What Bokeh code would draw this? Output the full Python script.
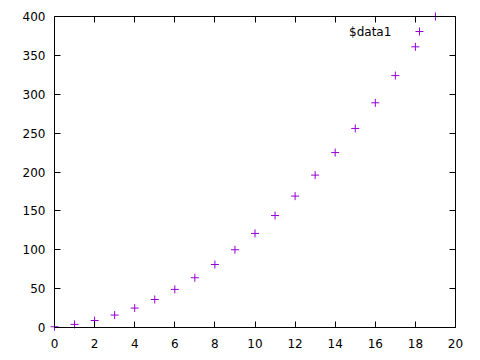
from bokeh.plotting import figure
from bokeh.models import Range1d, LinearAxis, SingleIntervalTicker, Label, Legend, LegendItem
from bokeh.embed import file_html
from bokeh.resources import INLINE

x_vals = [0, 1, 2, 3, 4, 5, 6, 7, 8, 9, 10, 11, 12, 13, 14, 15, 16, 17, 18, 19]
y_vals = [1, 4, 9, 16, 25, 36, 49, 64, 81, 100, 121, 144, 169, 196, 225, 256, 289, 324, 361, 400]
series_name = "$data1"
x_min, x_max, x_step = 0, 20, 2
y_min, y_max, y_step = 0, 400, 50

FONT = "DejaVu Sans"
FS = "12px"
COLOR = "#9400d3"

PAD = 5  # px of frame padding so edge markers are not clipped
fw, fh = 401, 311
xpad = (x_max - x_min) / fw * PAD
ypad = (y_max - y_min) / fh * PAD

p = figure(width=480, height=360, output_backend="svg", toolbar_location=None,
           x_range=Range1d(x_min - xpad, x_max + xpad), y_range=Range1d(y_min - ypad, y_max + ypad),
           x_axis_location=None, y_axis_location=None,
           min_border_left=54 - PAD, min_border_right=25 - PAD,
           min_border_top=16 - PAD, min_border_bottom=33 - PAD)
p.grid.visible = False
p.outline_line_color = None
p.background_fill_color = "white"
p.border_fill_color = "white"

def line_axis(step, bounds, loc):
    ax = LinearAxis(ticker=SingleIntervalTicker(interval=step, num_minor_ticks=0),
                    bounds=bounds, fixed_location=loc)
    ax.axis_line_color = "black"
    ax.major_tick_line_color = "black"
    ax.major_tick_in = 6
    ax.major_tick_out = 0
    ax.minor_tick_line_color = None
    ax.major_label_text_font_size = "0px"
    ax.major_label_text_color = None
    return ax

def label_axis(step, bounds, standoff):
    ax = LinearAxis(ticker=SingleIntervalTicker(interval=step, num_minor_ticks=0), bounds=bounds)
    ax.axis_line_color = None
    ax.major_tick_line_color = None
    ax.minor_tick_line_color = None
    ax.major_tick_in = 0
    ax.major_tick_out = 0
    ax.major_label_text_font = FONT
    ax.major_label_text_font_size = FS
    ax.major_label_text_color = "black"
    ax.major_label_standoff = standoff
    return ax

p.add_layout(label_axis(x_step, (x_min, x_max), 6), "below")
p.add_layout(label_axis(y_step, (y_min, y_max), 4), "left")
p.add_layout(line_axis(x_step, (x_min, x_max), y_min), "below")
p.add_layout(line_axis(y_step, (y_min, y_max), x_min), "left")
p.add_layout(line_axis(x_step, (x_min, x_max), y_max), "above")
p.add_layout(line_axis(y_step, (y_min, y_max), x_max), "right")

r = p.scatter(x_vals, y_vals, marker="cross", size=8, line_color=COLOR, line_width=1)

legend = Legend(items=[LegendItem(label=" ", renderers=[r])],
                location=(360, 291), padding=0, margin=0, spacing=0,
                glyph_width=20, glyph_height=20, label_standoff=0,
                label_text_font_size="1px",
                background_fill_alpha=0, border_line_color=None)
p.add_layout(legend, "center")

p.add_layout(Label(x=16.8, y=380.7, text=series_name, text_align="right", text_baseline="middle",
                   text_font=FONT, text_font_size=FS, text_color="black"))

open("out.html", "w").write(file_html(p, INLINE))
